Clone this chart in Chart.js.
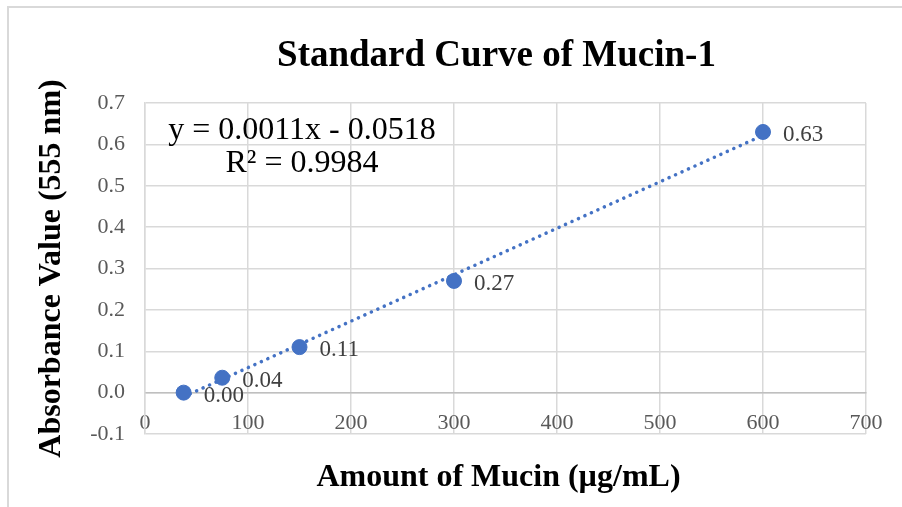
<!DOCTYPE html>
<html>
<head>
<meta charset="utf-8">
<script src="https://cdn.jsdelivr.net/npm/chart.js@4.4.1/dist/chart.umd.min.js"></script>
<style>
  html, body { margin: 0; padding: 0; background: #fff; }
  #wrap { width: 902px; height: 507px; }
</style>
</head>
<body>
<div id="wrap"><canvas id="mucinChart" width="902" height="507"></canvas></div>
<script>
// Standard curve readings
const mucinAmounts = [37.5, 75, 150, 300, 600];
const absorbance = [0.0, 0.036, 0.11, 0.27, 0.63];
const pointLabels = ['0.00', '0.04', '0.11', '0.27', '0.63'];
const equationLines = ['y = 0.0011x - 0.0518', 'R\u00b2 = 0.9984'];
const xTicks = [0, 100, 200, 300, 400, 500, 600, 700];
const yTicks = [-0.1, 0, 0.1, 0.2, 0.3, 0.4, 0.5, 0.6, 0.7];
const chartTitle = 'Standard Curve of Mucin-1';
const xTitle = 'Amount of Mucin (\u00b5g/mL)';
const yTitle = 'Absorbance Value (555 nm)';

const BLUE = '#4472C4';
const SERIF = "'Liberation Serif', 'Times New Roman', serif";

// least squares fit, drawn over the data range like Excel does
function linearFit(xs, ys) {
  const n = xs.length;
  const mx = xs.reduce((a, b) => a + b, 0) / n;
  const my = ys.reduce((a, b) => a + b, 0) / n;
  let sxy = 0, sxx = 0;
  xs.forEach((x, i) => {
    sxy += (x - mx) * (ys[i] - my);
    sxx += (x - mx) * (x - mx);
  });
  const slope = sxy / sxx;
  return { slope, intercept: my - slope * mx };
}

const fit = linearFit(mucinAmounts, absorbance);
const xFirst = mucinAmounts[0];
const xLast = mucinAmounts[mucinAmounts.length - 1];
const trendPoints = [
  { x: xFirst, y: fit.slope * xFirst + fit.intercept },
  { x: xLast, y: fit.slope * xLast + fit.intercept }
];

// white page with the thin frame at top/left, plus titles
const frame = {
  id: 'frame',
  beforeDraw(chart) {
    const c = chart.ctx;
    const area = chart.chartArea;
    const midX = (area.left + area.right) / 2 - 9;
    c.save();
    c.fillStyle = '#fff';
    c.fillRect(0, 0, chart.width, chart.height);
    c.strokeStyle = '#d9d9d9';
    c.lineWidth = 2;
    c.beginPath();
    c.moveTo(8, chart.height);
    c.lineTo(8, 7);
    c.lineTo(chart.width, 7);
    c.stroke();

    c.fillStyle = '#000';
    c.textAlign = 'center';
    c.textBaseline = 'middle';
    c.font = 'bold 37px ' + SERIF;
    c.fillText(chartTitle, midX, 56);
    c.font = 'bold 32px ' + SERIF;
    c.fillText(xTitle, midX + 2, 478);
    c.restore();
  }
};

// value labels next to each marker + trendline equation
const annotations = {
  id: 'annotations',
  afterDatasetsDraw(chart) {
    const c = chart.ctx;
    const meta = chart.getDatasetMeta(1);
    c.save();
    c.font = '23px ' + SERIF;
    c.fillStyle = '#404040';
    c.textAlign = 'left';
    c.textBaseline = 'middle';
    meta.data.forEach((pt, i) => {
      c.fillText(pointLabels[i], pt.x + 20, pt.y + 3);
    });
    c.font = '32px ' + SERIF;
    c.fillStyle = '#000';
    c.textAlign = 'center';
    c.fillText(equationLines[0], 302, 131);
    c.fillText(equationLines[1], 302, 164);
    c.restore();
  }
};

new Chart(document.getElementById('mucinChart'), {
  type: 'scatter',
  data: {
    datasets: [
      {
        type: 'line',
        label: 'Linear trend',
        data: trendPoints,
        borderColor: BLUE,
        borderWidth: 3.5,
        borderDash: [0.1, 7],
        borderCapStyle: 'round',
        pointRadius: 0,
        fill: false,
        order: 2
      },
      {
        label: 'Mucin-1',
        data: mucinAmounts.map((x, i) => ({ x, y: absorbance[i] })),
        backgroundColor: BLUE,
        borderColor: BLUE,
        pointRadius: 7.5,
        pointHoverRadius: 7.5,
        order: 1
      }
    ]
  },
  options: {
    responsive: false,
    animation: false,
    layout: { padding: { left: 0, right: 36, top: 103, bottom: 73 } },
    plugins: {
      legend: { display: false },
      tooltip: { enabled: false },
      title: { display: false }
    },
    scales: {
      x: {
        type: 'linear',
        position: { y: 0 },
        min: 0,
        max: 700,
        afterBuildTicks: (axis) => { axis.ticks = xTicks.map(v => ({ value: v })); },
        ticks: {
          color: '#595959',
          font: { family: SERIF, size: 22 },
          padding: 17,
          maxRotation: 0
        },
        grid: { color: '#d9d9d9', lineWidth: 1.5, drawTicks: false },
        border: { color: '#bfbfbf', width: 1.5 }
      },
      y: {
        type: 'linear',
        position: 'left',
        min: -0.1,
        max: 0.7,
        afterBuildTicks: (axis) => { axis.ticks = yTicks.map(v => ({ value: v })); },
        afterFit: (axis) => { axis.width = 145; },
        ticks: {
          color: '#595959',
          font: { family: SERIF, size: 22 },
          padding: 20,
          callback: (v) => Number(v).toFixed(1)
        },
        grid: { color: '#d9d9d9', lineWidth: 1.5, drawTicks: false },
        border: { color: '#d9d9d9', width: 1.5 },
        title: {
          display: true,
          text: yTitle,
          color: '#000',
          font: { family: SERIF, size: 32, weight: 'bold' },
          padding: { top: 33, bottom: 0 }
        }
      }
    }
  },
  plugins: [frame, annotations]
});
</script>
</body>
</html>
